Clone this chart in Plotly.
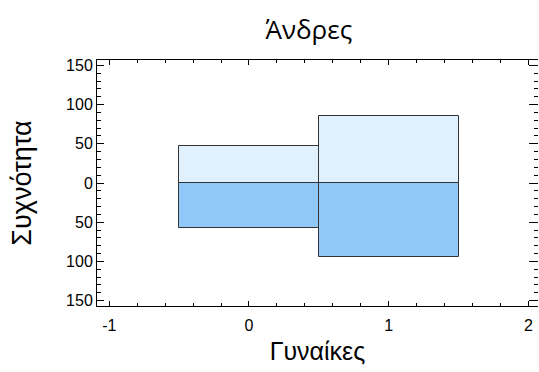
import plotly.graph_objects as go

# Back-to-back frequency histogram: men above the axis, women below
categories = [0, 1]
men_counts = [47, 85]
women_counts = [58, 94]

y_tick_vals = [-150, -100, -50, 0, 50, 100, 150]
y_tick_text = [str(abs(v)) for v in y_tick_vals]
x_tick_vals = [-1, 0, 1, 2]
x_tick_text = ["-1", "0", "1", "2"]

y_range = [-157, 157]
x_range = [-1.088, 2.069]

font_main = "Liberation Sans, Arial, sans-serif"
edge = dict(color="#333333", width=1)

fig = go.Figure()
fig.add_trace(go.Bar(
    x=categories, y=men_counts, width=1,
    marker=dict(color="#E1F0FD", line=edge),
    name="Άνδρες", hoverinfo="x+y",
))
fig.add_trace(go.Bar(
    x=categories, y=[-v for v in women_counts], width=1,
    marker=dict(color="#90C9F8", line=edge),
    name="Γυναίκες", hoverinfo="x+y",
))
# invisible trace so the right-hand tick axis is laid out
fig.add_trace(go.Scatter(x=[0], y=[0], yaxis="y2", mode="markers",
                         marker=dict(opacity=0), hoverinfo="skip",
                         showlegend=False))

fig.update_layout(
    width=539, height=372,
    margin=dict(l=97, r=1, t=60, b=66),
    paper_bgcolor="white", plot_bgcolor="white",
    barmode="overlay", bargap=0, showlegend=False,
    font=dict(family=font_main, color="black"),
    title=dict(text="Άνδρες", x=0.573, xanchor="center",
               y=1 - 30 / 372, yanchor="middle",
               font=dict(family="Open Sans, sans-serif", size=26)),
    xaxis=dict(
        range=x_range, tickvals=x_tick_vals, ticktext=x_tick_text,
        showgrid=False, zeroline=False, showline=True, linecolor="black",
        linewidth=1, mirror="ticks", ticks="inside", ticklen=5,
        tickcolor="black", tickfont=dict(size=16), ticklabelstandoff=5,
        minor=dict(dtick=0.2, ticks="inside", ticklen=3, tickcolor="black"),
        title=dict(text="Γυναίκες", font=dict(size=25), standoff=9),
    ),
    yaxis=dict(
        range=y_range, tickvals=y_tick_vals, ticktext=y_tick_text,
        showgrid=False, zeroline=False, showline=True, linecolor="black",
        linewidth=1, ticks="inside", ticklen=7, tickcolor="black",
        tickfont=dict(size=16),
        minor=dict(dtick=10, ticks="inside", ticklen=4, tickcolor="black"),
        title=dict(text="Συχνότητα", font=dict(size=27), standoff=26),
    ),
    yaxis2=dict(
        range=y_range, overlaying="y", side="right", tickvals=y_tick_vals,
        showticklabels=False, showgrid=False, zeroline=False,
        showline=False, ticks="inside", ticklen=9, tickcolor="black",
        minor=dict(dtick=10, ticks="inside", ticklen=4, tickcolor="black"),
    ),
)

fig.write_html("out.html")
